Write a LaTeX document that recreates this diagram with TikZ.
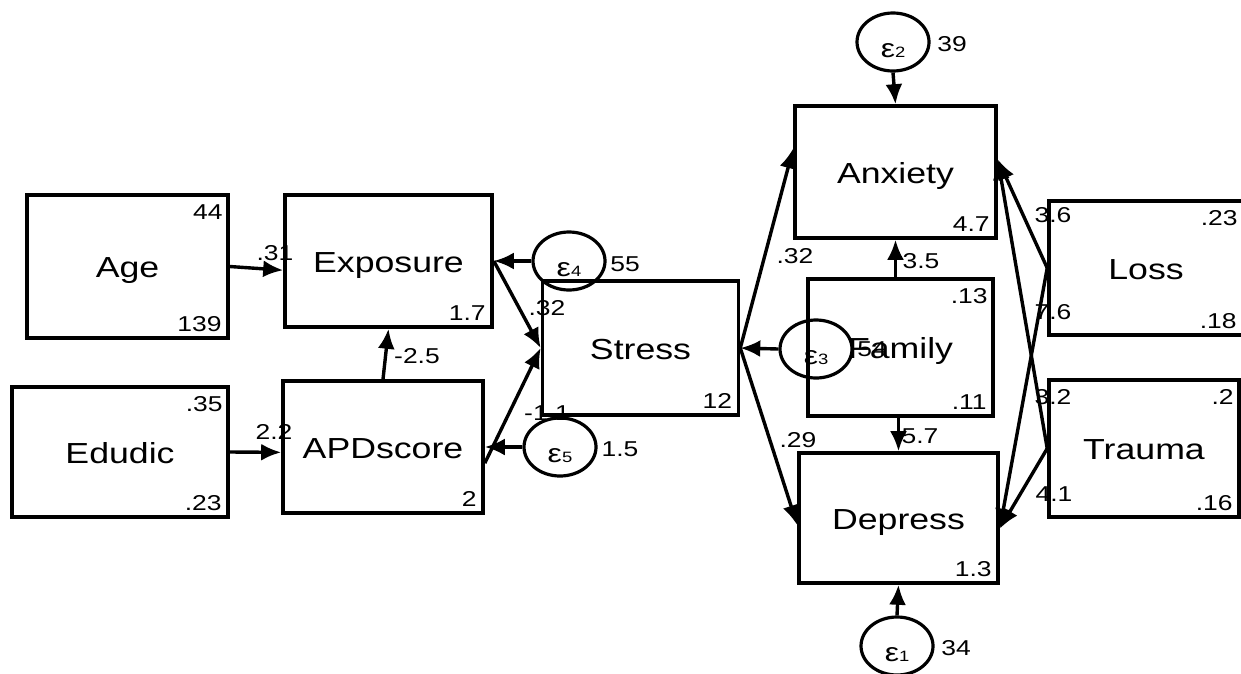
\documentclass[tikz,border=0pt]{standalone}
\usepackage{fontspec}
\setmainfont{Liberation Sans}[FakeStretch=1.23]
\usepackage{tikz}
\usetikzlibrary{arrows.meta,shapes.geometric,positioning,calc}
\newcommand{\errsym}[1]{ε{\fontsize{15}{15}\selectfont #1}}

\begin{document}
\begin{tikzpicture}[x=1pt,y=-1pt,>={Latex[length=20pt,width=17pt]},
  obs/.style={draw,line width=3.6pt,inner sep=0pt,text height=22pt,text depth=0pt,font=\fontsize{29}{29}\selectfont},
  err/.style={draw,ellipse,line width=3.2pt,minimum width=72pt,minimum height=58pt,inner sep=0pt,text height=30pt,text depth=0pt,font=\fontsize{26}{26}\selectfont},
  num/.style={inner sep=0pt,font=\fontsize{21.5}{21.5}\selectfont},
  tr/.style={num,anchor=north east,xshift=-7pt,yshift=-11pt},
  br/.style={num,anchor=south east,xshift=-8pt,yshift=8pt},
  pth/.style={->,line width=3.4pt}]
  \useasboundingbox (0,0) rectangle (1241,673);

  \node[obs,minimum width=201pt,minimum height=143pt] (age) at (127.5,266.5) {Age};
  \node[obs,minimum width=216pt,minimum height=130pt] (edu) at (120,452) {Edudic};
  \node[obs,minimum width=207pt,minimum height=132pt] (expo) at (388.5,261) {Exposure};
  \node[obs,minimum width=200pt,minimum height=132pt] (apd) at (383,447) {APDscore};
  \node[obs,minimum width=196pt,minimum height=134pt] (stress) at (640.5,348) {Stress};
  \node[obs,minimum width=201pt,minimum height=132pt] (anx) at (895.5,172) {Anxiety};
  \node[obs,minimum width=185pt,minimum height=137pt] (fam) at (900.5,347.5) {Family};
  \node[obs,minimum width=199pt,minimum height=130pt] (dep) at (898.5,518) {Depress};
  \node[obs,minimum width=194pt,minimum height=134pt] (loss) at (1146,268) {Loss};
  \node[obs,minimum width=190pt,minimum height=137pt] (trauma) at (1144,448.5) {Trauma};

  \node[tr] (age-m) at (age.north east) {44};
  \node[br] (age-v) at (age.south east) {139};
  \node[tr] (edu-m) at (edu.north east) {.35};
  \node[br] (edu-v) at (edu.south east) {.23};
  \node[br] (expo-c) at (expo.south east) {1.7};
  \node[br] (apd-c) at (apd.south east) {2};
  \node[br] (stress-c) at (stress.south east) {12};
  \node[br] (anx-c) at (anx.south east) {4.7};
  \node[tr] (fam-m) at (fam.north east) {.13};
  \node[br] (fam-v) at (fam.south east) {.11};
  \node[br] (dep-c) at (dep.south east) {1.3};
  \node[tr] (loss-m) at (loss.north east) {.23};
  \node[br] (loss-v) at (loss.south east) {.18};
  \node[tr] (trauma-m) at (trauma.north east) {.2};
  \node[br] (trauma-v) at (trauma.south east) {.16};

  \node[err] (e1) at (897,646) {\errsym{1}};
  \node[err] (e2) at (893,42) {\errsym{2}};
  \node[err] (e3) at (816,349) {\errsym{3}};
  \node[err] (e4) at (569,261) {\errsym{4}};
  \node[err] (e5) at (560,447) {\errsym{5}};
  \node[num] (e1-v) at (956,648) {34};
  \node[num] (e2-v) at (952,44) {39};
  \node[num] (e3-v) at (872,349) {54};
  \node[num] (e4-v) at (625,264) {55};
  \node[num] (e5-v) at (620,449) {1.5};

  \draw[pth] (age.east) -- (expo.185);
  \draw[pth] (edu.east) -- (apd.183);
  \draw[pth] (apd.north) -- (expo.south);
  \draw[pth] (expo.east) -- (stress.west);
  \draw[pth] (apd.351) -- (stress.west);
  \draw[pth] (e4.west) -- (expo.east);
  \draw[pth] (e5.west) -- (apd.east);
  \draw[pth] (e3.west) -- (stress.east);
  \draw[pth] (stress.east) -- (anx.167);
  \draw[pth] (stress.east) -- (dep.184);
  \draw[pth] (fam.north -| anx.south) -- (anx.south);
  \draw[pth] (fam.south -| dep.north) -- (dep.north);
  \draw[pth] (e2.south) -- (anx.north);
  \draw[pth] (e1.north) -- (dep.south);
  \draw[pth] (loss.west) -- (anx.7);
  \draw[pth] (loss.west) -- (dep.354);
  \draw[pth] (trauma.west) -- (anx.7);
  \draw[pth] (trauma.west) -- (dep.354);

  \node[num] (b1) at (275,253) {.31};
  \node[num] (b2) at (274,432) {2.2};
  \node[num] (b3) at (417,356) {-2.5};
  \node[num] (b4) at (547,308) {.32};
  \node[num] (b5) at (547,413) {-1.1};
  \node[num] (b6) at (795,256) {.32};
  \node[num] (b7) at (921,261) {3.5};
  \node[num] (b8) at (798,440) {.29};
  \node[num] (b9) at (920,436) {5.7};
  \node[num] (b10) at (1053,215) {3.6};
  \node[num] (b11) at (1053,312) {7.6};
  \node[num] (b12) at (1053,397) {3.2};
  \node[num] (b13) at (1054,494) {4.1};
\end{tikzpicture}
\end{document}
